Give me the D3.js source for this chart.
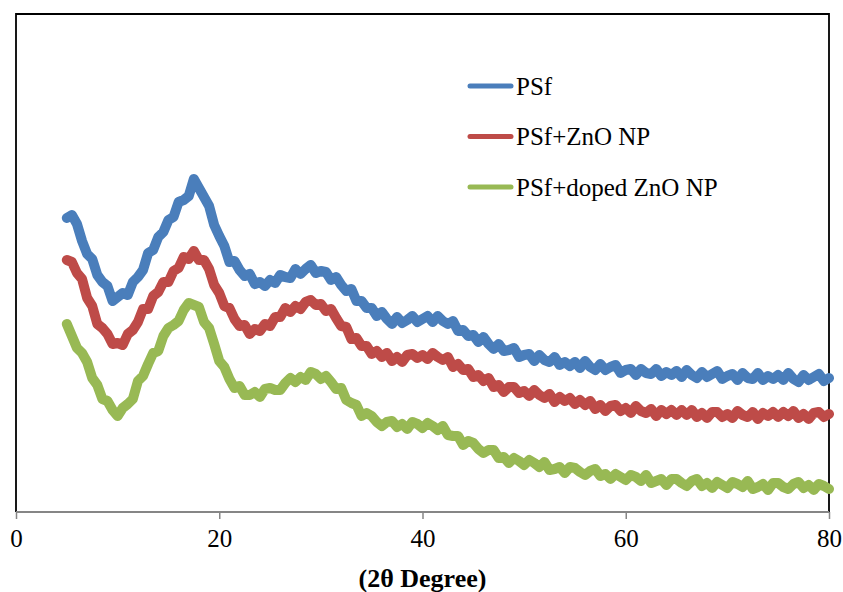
<!DOCTYPE html>
<html><head><meta charset="utf-8">
<script src="https://cdn.jsdelivr.net/npm/d3@7/dist/d3.min.js"></script>
<style>body{margin:0;background:#fff}svg{display:block}</style>
</head><body><svg id="c" width="843" height="592"></svg>
<script>
// 2θ sampling grid (degrees), 5 to 80 step 0.5
const twoTheta = d3.range(10, 161).map(i => i / 2);
const seriesNames = ["PSf", "PSf+ZnO NP", "PSf+doped ZnO NP"];
const seriesColors = ["#4A7EBB", "#BE4B48", "#98B954"];
const xTicks = [0, 20, 40, 60, 80];
const xTitle = "(2θ Degree)";
// intensities (a.u.)
const psf = [294,297,288,271,258,253,237,230,226,211,215,219,217,230,235,242,259,262,275,280,
292,295,310,312,316,333,324,315,306,287,276,266,250,251,242,236,238,228,230,226,
232,229,237,235,234,243,238,243,247,239,241,240,232,235,227,221,223,211,211,204,
204,196,200,193,188,195,189,192,196,190,193,196,190,196,191,188,191,181,182,176,
177,170,175,168,163,168,161,162,164,155,157,158,151,157,152,150,155,147,150,146,
150,144,151,145,142,148,142,145,147,139,142,143,137,143,139,138,143,136,140,137,
141,135,142,137,134,140,135,138,141,133,136,138,132,139,134,133,139,132,136,133,
137,132,139,133,130,137,132,135,138,131,134];
const psfZnO = [252,250,239,233,214,206,188,184,178,168,169,167,178,182,190,203,203,216,220,230,
230,241,244,255,253,261,252,252,243,227,219,206,204,193,186,187,178,183,181,188,
186,195,195,204,200,206,203,210,212,207,208,201,203,194,186,185,173,174,166,166,
158,161,155,159,151,155,150,157,158,154,157,153,159,155,152,155,145,148,142,143,
135,137,131,134,125,127,120,125,125,119,121,116,122,117,114,118,110,115,111,114,
108,112,107,111,103,107,101,106,107,101,104,99,106,101,99,103,96,102,98,102,
97,102,97,102,95,99,94,100,100,95,98,94,101,97,95,100,93,99,96,100,
95,100,96,101,94,98,93,99,100,95,98];
const psfDoped = [188,176,164,159,150,134,127,113,111,102,96,104,108,113,131,136,148,159,161,176,
184,187,191,202,209,207,205,190,184,168,151,145,133,124,126,117,117,120,115,123,
124,122,122,129,134,130,135,132,140,138,133,136,130,123,124,112,109,107,96,99,
96,90,86,90,91,85,88,83,90,88,84,89,86,82,86,77,76,76,67,71,
69,63,59,62,62,54,55,49,54,51,47,52,49,45,50,42,43,45,39,45,
44,40,37,41,43,36,38,33,38,35,32,37,35,31,37,29,31,33,27,33,
33,29,26,31,33,26,29,24,30,27,24,30,28,25,31,23,25,28,22,29,
29,25,23,28,30,24,27,22,28,26,23];
const seriesValues = [psf, psfZnO, psfDoped];

const svg = d3.select("#c");
const L = 16, R = 829, T = 14, B = 512;
const x = d3.scaleLinear().domain([0, 80]).range([L, R]);
const y = d3.scaleLinear().domain([0, 498]).range([B, T]);

// plot area frame (top, left, right)
svg.append("path").attr("d", `M${L},${B}V${T}H${R}V${B}`)
  .attr("fill", "none").attr("stroke", "#000").attr("stroke-width", 1.8);

// series
const line = d3.line().x((d, i) => x(twoTheta[i])).y(d => y(d));
seriesValues.forEach((vals, k) => {
  svg.append("path").datum(vals).attr("d", line)
    .attr("fill", "none").attr("stroke", seriesColors[k])
    .attr("stroke-width", 10).attr("stroke-linejoin", "round").attr("stroke-linecap", "round");
});

// x axis
const ax = svg.append("g").attr("transform", `translate(0,${B})`)
  .call(d3.axisBottom(x).tickValues(xTicks).tickSize(7).tickPadding(10).tickFormat(d3.format("d")));
ax.select(".domain").attr("stroke", "#868686").attr("stroke-width", 2.2).attr("d", `M${L},0H${R}`);
ax.selectAll(".tick line").attr("stroke", "#868686").attr("stroke-width", 1.5);
ax.selectAll(".tick text").attr("font-family", "'Liberation Serif', 'Times New Roman', serif")
  .attr("font-size", 25).attr("fill", "#000").attr("dy", "0.71em");

svg.append("text").attr("x", (L + R) / 2).attr("y", 587).attr("text-anchor", "middle")
  .attr("font-family", "'Liberation Serif', 'Times New Roman', serif").attr("font-weight", "bold")
  .attr("font-size", 26).text(xTitle);

// legend
const lg = svg.append("g");
seriesNames.forEach((n, k) => {
  const cy = 86 + k * 50.5;
  lg.append("line").attr("x1", 470).attr("x2", 511).attr("y1", cy).attr("y2", cy)
    .attr("stroke", seriesColors[k]).attr("stroke-width", 5).attr("stroke-linecap", "round");
  lg.append("text").attr("x", 516).attr("y", cy + 8.5)
    .attr("font-family", "'Liberation Serif', 'Times New Roman', serif").attr("font-size", 25)
    .attr("fill", "#000").text(n);
});
</script></body></html>
